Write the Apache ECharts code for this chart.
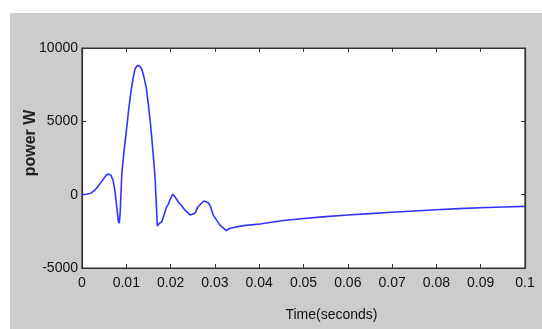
<!DOCTYPE html>
<html>
<head>
<meta charset="utf-8">
<script src="https://cdn.jsdelivr.net/npm/echarts@6/dist/echarts.min.js"></script>
<style>
  html, body { margin: 0; padding: 0; background: #ffffff; }
  #wrap { position: relative; width: 542px; height: 329px; overflow: hidden; }
  #bg { position: absolute; left: 10px; top: 13px; right: 0; bottom: 0; background: #cccccc; }
  #chart { position: absolute; left: 0; top: 0; width: 542px; height: 329px; }
</style>
</head>
<body>
<div id="wrap"><div id="bg"></div><div id="chart"></div></div>
<script>
// Time (s)
const timeValues = [0, 0.001, 0.002, 0.003, 0.004, 0.0048, 0.0055, 0.006, 0.0065, 0.007, 0.0074, 0.0078, 0.0082, 0.0084, 0.0086, 0.0088, 0.009, 0.0095, 0.010, 0.0105, 0.011, 0.0115, 0.012, 0.0125, 0.013, 0.0135, 0.014, 0.0145, 0.015, 0.0155, 0.016, 0.0165, 0.0168, 0.017, 0.0175, 0.018, 0.0185, 0.019, 0.0195, 0.02, 0.0205, 0.021, 0.0217, 0.0225, 0.0232, 0.0244, 0.0255, 0.0262, 0.0275, 0.0285, 0.029, 0.0296, 0.0311, 0.0326, 0.0334, 0.0364, 0.0402, 0.045, 0.05, 0.055, 0.06, 0.065, 0.07, 0.075, 0.08, 0.085, 0.09, 0.095, 0.1];
// Power (W)
const powerValues = [0, 30, 100, 330, 720, 1050, 1350, 1400, 1330, 1000, 320, -700, -1800, -1950, -1300, 100, 1500, 3000, 4300, 5700, 6900, 7900, 8600, 8800, 8780, 8550, 8000, 7300, 6100, 4700, 3000, 1100, -800, -2130, -1950, -1850, -1400, -900, -650, -250, 30, -150, -480, -750, -1040, -1380, -1270, -820, -430, -550, -800, -1380, -2060, -2450, -2290, -2110, -2000, -1780, -1620, -1500, -1390, -1290, -1200, -1110, -1030, -950, -890, -840, -800];
const xTicks = [0, 0.01, 0.02, 0.03, 0.04, 0.05, 0.06, 0.07, 0.08, 0.09, 0.1];
const yTicks = [-5000, 0, 5000, 10000];

const labelFont = { fontFamily: '"Liberation Sans Narrow", "Liberation Sans", Arial, sans-serif', fontSize: 14, color: '#111' };
const chart = echarts.init(document.getElementById('chart'), null, { renderer: 'canvas' });
const points = timeValues.map((t, i) => [t, powerValues[i]]);
const fmtX = v => {
  const r = Math.round(v * 100) / 100;
  return r === 0 ? '0' : String(r);
};
const fmtY = v => String(Math.round(v));
const frameAxis = { show: true, onZero: false, lineStyle: { color: '#333', width: 1.2 } };
const frameTick = { show: true, inside: true, length: 4, lineStyle: { color: '#333' } };
chart.setOption({
  animation: false,
  backgroundColor: 'transparent',
  grid: { left: 82, top: 48, right: 17, bottom: 61, show: true, backgroundColor: '#ffffff', borderColor: '#333', borderWidth: 1.2 },
  xAxis: [{
    type: 'value', min: xTicks[0], max: xTicks[xTicks.length - 1], interval: 0.01,
    axisLine: frameAxis, axisTick: frameTick,
    axisLabel: Object.assign({ formatter: fmtX, margin: 8 }, labelFont),
    splitLine: { show: false },
    name: 'Time(seconds)', nameLocation: 'middle', nameGap: 40, nameMoveOverlap: false,
    nameTextStyle: Object.assign({}, labelFont, { fontSize: 14, padding: [0, 0, 0, 56] })
  }, {
    type: 'value', position: 'top', min: xTicks[0], max: xTicks[xTicks.length - 1], interval: 0.01,
    axisLine: frameAxis, axisTick: frameTick,
    axisLabel: { show: false }, splitLine: { show: false }
  }],
  yAxis: [{
    type: 'value', min: yTicks[0], max: yTicks[yTicks.length - 1], interval: 5000,
    axisLine: frameAxis, axisTick: frameTick,
    axisLabel: Object.assign({ formatter: fmtY, margin: 4 }, labelFont),
    splitLine: { show: false },
    name: 'power W', nameLocation: 'middle', nameGap: 43, nameRotate: 90, nameMoveOverlap: false,
    nameTextStyle: { fontFamily: '"Liberation Sans", Arial, sans-serif', fontWeight: 'bold', fontSize: 16, color: '#222', padding: [0, 0, 0, 30] }
  }, {
    type: 'value', position: 'right', min: yTicks[0], max: yTicks[yTicks.length - 1], interval: 5000,
    axisLine: frameAxis, axisTick: frameTick,
    axisLabel: { show: false }, splitLine: { show: false }
  }],
  series: [{
    type: 'line', data: points, showSymbol: false, symbol: 'none',
    lineStyle: { color: '#3333ff', width: 1.6 }, smooth: false, clip: true
  }]
});
</script>
</body>
</html>
